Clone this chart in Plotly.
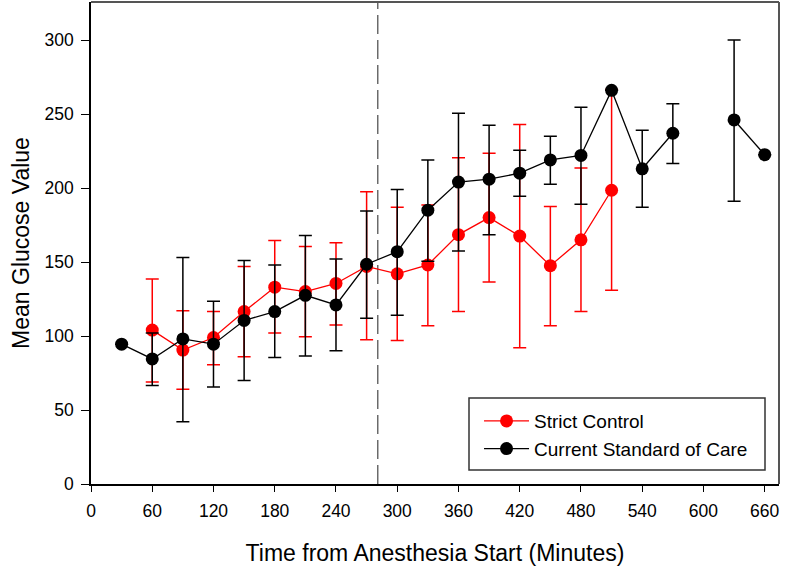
import plotly.graph_objects as go

time_strict = [60, 90, 120, 150, 180, 210, 240, 270, 300, 330, 360, 390, 420, 450, 480, 510]
mean_strict = [104, 90.5, 99, 116.5, 133, 130, 135.5, 147, 142, 148, 168.5, 180, 167.5, 147.5, 165, 198.5]
upper_strict = [138.5, 117, 116.5, 147, 164.5, 160.5, 163, 197.5, 187, 188.5, 220.5, 223.5, 243, 187.5, 213.5, 266.5]
lower_strict = [69, 64, 80.5, 86, 102, 99.5, 107.5, 97.5, 97, 107, 116.5, 136.5, 92, 107, 116.5, 131]

time_care = [30, 60, 90, 120, 150, 180, 210, 240, 270, 300, 330, 360, 390, 420, 450, 480, 510, 540, 570, 600, 630, 660]
mean_care = [94.5, 84.5, 98, 94.5, 110.5, 116.5, 127.5, 121, 148.5, 157, 185, 204, 206, 210, 219, 222, 266, 213, 237, None, 246, 222.5]
upper_care = [94.5, 102, 153, 123.5, 151, 148, 168, 152, 184.5, 199, 219, 250.5, 242.5, 225.5, 235, 254.5, 266, 239, 257, None, 300, 222.5]
lower_care = [94.5, 66.5, 42, 65.5, 70, 85.5, 86.5, 90, 112, 114, 150.5, 157.5, 168.5, 194.5, 202.5, 189, 266, 187, 216.5, None, 191, 222.5]

x_ticks = [0, 60, 120, 180, 240, 300, 360, 420, 480, 540, 600, 660]
y_ticks = [0, 50, 100, 150, 200, 250, 300]
divider_time = 281


def err(mean, up, lo):
    plus = [None if m is None else u - m for m, u in zip(mean, up)]
    minus = [None if m is None else m - l for m, l in zip(mean, lo)]
    return plus, minus


sp, sm = err(mean_strict, upper_strict, lower_strict)
cp, cm = err(mean_care, upper_care, lower_care)

fig = go.Figure()
fig.add_trace(go.Scatter(
    x=time_strict, y=mean_strict, mode="lines+markers", name="Strict Control",
    line=dict(color="#ff0000", width=1.3),
    marker=dict(color="#ff0000", size=13),
    error_y=dict(type="data", array=sp, arrayminus=sm, color="#ff0000", thickness=1.5, width=6.5),
))
fig.add_trace(go.Scatter(
    x=time_care, y=mean_care, mode="lines+markers", name="Current Standard of Care",
    line=dict(color="#000000", width=1.3),
    marker=dict(color="#000000", size=13),
    error_y=dict(type="data", array=cp, arrayminus=cm, color="#000000", thickness=1.5, width=6.5),
    connectgaps=False,
))

fig.add_shape(type="line", xref="x", yref="paper", x0=divider_time, x1=divider_time, y0=0, y1=1,
              line=dict(color="#222222", width=1, dash="19px,6px"), layer="below")

FONT = "Arial, Liberation Sans, sans-serif"

fig.update_layout(
    width=787, height=568,
    margin=dict(l=91, r=8, t=2, b=84, autoexpand=False),
    paper_bgcolor="white", plot_bgcolor="white",
    font=dict(family=FONT, color="#000000", size=17.5),
    showlegend=True,
    legend=dict(
        x=0.564, y=0.170, xanchor="left", yanchor="top",
        borderwidth=0, bgcolor="rgba(0,0,0,0)",
        font=dict(size=19), itemwidth=45, tracegroupgap=0,
    ),
    xaxis=dict(
        range=[0, 674], tickvals=x_ticks, ticktext=[str(t) for t in x_ticks],
        ticks="outside", ticklen=6, tickcolor="#000", tickwidth=1.2,
        ticklabelstandoff=4,
        showline=True, linecolor="#000", linewidth=1.5,
        showgrid=False, zeroline=False, automargin=False,
        title=dict(text="Time from Anesthesia Start (Minutes)", font=dict(size=23), standoff=25),
    ),
    yaxis=dict(
        range=[0, 325.7], tickvals=y_ticks,
        ticks="outside", ticklen=8, tickcolor="#000", tickwidth=1.2,
        ticklabelstandoff=4,
        showline=True, linecolor="#000", linewidth=1.5,
        showgrid=False, zeroline=False, automargin=False,
        title=dict(text="Mean Glucose Value", font=dict(size=23), standoff=8),
    ),
)

# legend frame
fig.add_shape(type="rect", xref="paper", yref="paper",
              x0=(469 - 91) / 688, x1=(765 - 91) / 688,
              y0=(484 - 470) / 482, y1=(484 - 398) / 482,
              line=dict(color="#333333", width=1.5), fillcolor="white", layer="below")

# top and right frame lines
fig.add_shape(type="line", xref="paper", yref="paper", x0=0, x1=1, y0=1, y1=1,
              line=dict(color="#555555", width=2))
fig.add_shape(type="line", xref="paper", yref="paper", x0=1, x1=1, y0=0, y1=1,
              line=dict(color="#555555", width=2))

fig.write_html("out.html", config={"displayModeBar": False},
               post_script="document.body.style.margin='0';document.body.style.overflow='hidden';")
